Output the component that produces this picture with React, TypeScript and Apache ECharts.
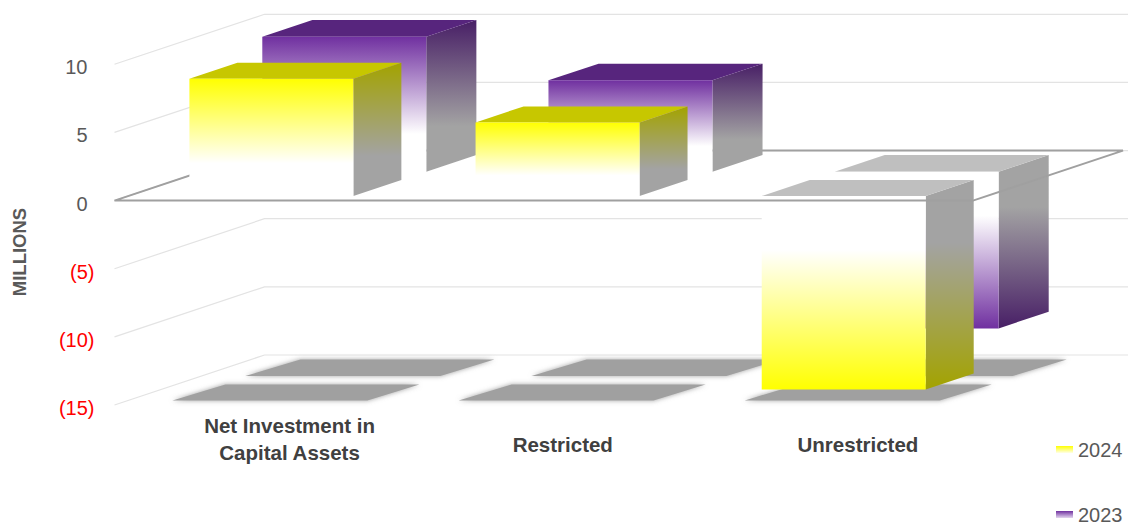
import React, { useEffect, useRef } from 'react';
import * as echarts from 'echarts';

// ---------- data ----------
const categories = ['Net Investment in\nCapital Assets', 'Restricted', 'Unrestricted'];
const seriesNames = ['2024', '2023'];
const values2024 = [8.6, 5.4, -14.2];
const values2023 = [9.9, 6.7, -11.5];
const yTicks = [10, 5, 0, -5, -10, -15];
const Y_MIN = -15;
const Y_MAX = 10;
const Y_STEP = 5;

// ---------- style / layout ----------
const YELLOW = '#FFFF00';
const PURPLE = '#7030A0';
const DEPTH_X = 150;
const DEPTH_Y = -50;
const BAR_RATIO = 0.573;
const FRONT_ROW = [0.092, 0.412];
const BACK_ROW = [0.578, 0.912];
const LABEL_DX = [32, 19, 28];
const LABEL_DY = [33.5, 39.5, 39.5];
const FONT = '"Liberation Sans", Arial, sans-serif';

function rgb(hex: string) {
  const n = parseInt(hex.slice(1), 16);
  return [(n >> 16) & 255, (n >> 8) & 255, n & 255];
}
function shade(hex: string, f: number) {
  const [r, g, b] = rgb(hex);
  return `rgb(${Math.round(r * f)},${Math.round(g * f)},${Math.round(b * f)})`;
}
function grad(stops: [number, string][]) {
  return new echarts.graphic.LinearGradient(
    0, 0, 0, 1,
    stops.map(([offset, color]) => ({ offset, color }))
  );
}

const P = (x: number, y: number, d: number) => [x + d * DEPTH_X, y + d * DEPTH_Y];

function makeBarRenderer(color: string, depth: number[], zBase: number) {
  return (params: any, api: any) => {
    const i = api.value(0);
    const v = api.value(1);
    const [cx, yv] = api.coord([i, v]);
    const y0 = api.coord([i, 0])[1];
    const yFloor = api.coord([i, Y_MIN])[1];
    const bw = api.size([1, 0])[0] * BAR_RATIO;
    const x0 = cx - bw / 2;
    const x1 = cx + bw / 2;
    const yTop = Math.min(yv, y0);
    const yBot = Math.max(yv, y0);
    const [df, db] = depth;
    const neg = v < 0;
    const z2 = (neg ? 10 : 30) + zBase;
    const W = '#FFFFFF';
    const frontFill = neg
      ? grad([[0, W], [0.28, W], [1, color]])
      : grad([[0, color], [0.72, W], [1, W]]);
    const sf = 0.64;
    const sideFill = neg
      ? grad([[0, shade(W, sf)], [0.3, shade(W, sf)], [1, shade(color, sf)]])
      : grad([[0, shade(color, sf)], [0.7, shade(W, sf)], [1, shade(W, sf)]]);
    const topFill = neg ? shade(W, 0.75) : shade(color, 0.78);
    return {
      type: 'group',
      children: [
        {
          type: 'polygon',
          z2: 1,
          shape: {
            points: [
              P(x0 - 17, yFloor, df), P(x1 + 14, yFloor, df),
              P(x1 + 18, yFloor, db), P(x0 - 12, yFloor, db),
            ],
          },
          style: { fill: '#a0a0a0', shadowBlur: 5, shadowColor: 'rgba(150,150,150,0.9)' },
        },
        {
          type: 'polygon',
          z2,
          shape: { points: [P(x1, yTop, df), P(x1, yTop, db), P(x1, yBot, db), P(x1, yBot, df)] },
          style: { fill: sideFill },
        },
        {
          type: 'polygon',
          z2,
          shape: { points: [P(x0, yTop, df), P(x1, yTop, df), P(x1, yTop, db), P(x0, yTop, db)] },
          style: { fill: topFill },
        },
        {
          type: 'rect',
          z2,
          shape: { x: x0 + df * DEPTH_X, y: yTop + df * DEPTH_Y, width: bw, height: yBot - yTop },
          style: { fill: frontFill },
        },
      ],
    };
  };
}

export default function App() {
  const ref = useRef<HTMLDivElement>(null);
  useEffect(() => {
    if (!ref.current) return;
    const chart = echarts.init(ref.current, null, { renderer: 'svg' });

    const wallsRender = (params: any, api: any) => {
      const cs = params.coordSys;
      const v = api.value(0);
      const y = api.coord([0, v])[1];
      const xl = cs.x;
      const xr = cs.x + cs.width;
      return {
        type: 'polyline',
        z2: 0,
        shape: { points: [P(xl, y, 0), P(xl, y, 1), P(xr + 5, y, 1)] },
        style: { stroke: '#e3e3e3', lineWidth: 1.2, fill: null },
      };
    };

    const floorRender = (params: any, api: any) => {
      const cs = params.coordSys;
      const y = api.coord([0, api.value(0)])[1];
      const xl = cs.x;
      const xr = cs.x + cs.width;
      return {
        type: 'polygon',
        z2: 20,
        shape: { points: [P(xl, y, 0), P(xr, y, 0), P(xr, y, 1), P(xl, y, 1)] },
        style: { stroke: '#a0a0a0', lineWidth: 2, fill: null },
      };
    };

    const labelRender = (params: any, api: any) => {
      const i = api.value(0);
      const [cx, yb] = api.coord([i, Y_MIN]);
      return {
        type: 'text',
        z2: 40,
        x: cx + LABEL_DX[i],
        y: yb + LABEL_DY[i],
        style: {
          text: categories[i],
          align: 'center',
          verticalAlign: 'middle',
          fontFamily: FONT,
          fontWeight: 'bold',
          fontSize: 20.5,
          lineHeight: 27,
          fill: '#404040',
        },
      };
    };

    chart.setOption({
      animation: false,
      backgroundColor: '#ffffff',
      grid: { left: 114.5, right: 155, top: 64.3, bottom: 120 },
      xAxis: {
        type: 'category',
        data: categories,
        axisLine: { show: false },
        axisTick: { show: false },
        axisLabel: { show: false },
        splitLine: { show: false },
      },
      yAxis: {
        type: 'value',
        min: Y_MIN,
        max: Y_MAX,
        interval: Y_STEP,
        axisLine: { show: false },
        axisTick: { show: false },
        splitLine: { show: false },
        axisLabel: {
          margin: 20,
          padding: [6, 0, 0, 0],
          fontFamily: FONT,
          fontSize: 20,
          formatter: (v: number) =>
            v < 0 ? `{neg|(${Math.abs(v)})}` : `{pos|${v}}`,
          rich: {
            neg: { color: '#FF0000', fontSize: 20, fontFamily: FONT },
            pos: { color: '#595959', fontSize: 20, fontFamily: FONT, padding: [0, 7, 0, 0] },
          },
        },
      },
      legend: {
        show: true,
        orient: 'vertical',
        left: 1056,
        top: 439.5,
        height: 85,
        padding: 0,
        itemWidth: 17,
        itemHeight: 7,
        itemGap: 45,
        selectedMode: false,
        textStyle: { fontFamily: FONT, fontSize: 20, color: '#595959', lineHeight: 20 },
        data: [
          {
            name: seriesNames[0],
            icon: 'rect',
            itemStyle: { color: grad([[0, YELLOW], [1, '#FFFFE8']]) },
          },
          {
            name: seriesNames[1],
            icon: 'rect',
            itemStyle: { color: grad([[0, PURPLE], [1, '#E3D6EE']]) },
          },
        ],
      },
      graphic: [
        {
          type: 'text',
          x: 19,
          y: 252,
          rotation: Math.PI / 2,
          style: {
            text: 'MILLIONS',
            align: 'center',
            verticalAlign: 'middle',
            fontFamily: FONT,
            fontWeight: 'bold',
            fontSize: 18.5,
            fill: '#595959',
          },
        },
      ],
      series: [
        {
          type: 'custom',
          name: 'walls',
          silent: true,
          renderItem: wallsRender,
          data: yTicks.map((v) => [v]),
          encode: { y: 0 },
        },
        {
          type: 'custom',
          name: 'floor',
          silent: true,
          renderItem: floorRender,
          data: [[0]],
          encode: { y: 0 },
        },
        {
          type: 'custom',
          name: seriesNames[1],
          silent: true,
          itemStyle: { color: PURPLE },
          renderItem: makeBarRenderer(PURPLE, BACK_ROW, 0),
          data: values2023.map((v, i) => [i, v]),
          encode: { x: 0, y: 1 },
        },
        {
          type: 'custom',
          name: seriesNames[0],
          silent: true,
          itemStyle: { color: YELLOW },
          renderItem: makeBarRenderer(YELLOW, FRONT_ROW, 1),
          data: values2024.map((v, i) => [i, v]),
          encode: { x: 0, y: 1 },
        },
        {
          type: 'custom',
          name: 'labels',
          silent: true,
          renderItem: labelRender,
          data: categories.map((_, i) => [i]),
          encode: { x: 0 },
        },
      ],
    });
    return () => chart.dispose();
  }, []);
  return (
    <div
      ref={ref}
      style={{ position: 'absolute', left: 0, top: 0, width: 1128, height: 525 }}
    />
  );
}
